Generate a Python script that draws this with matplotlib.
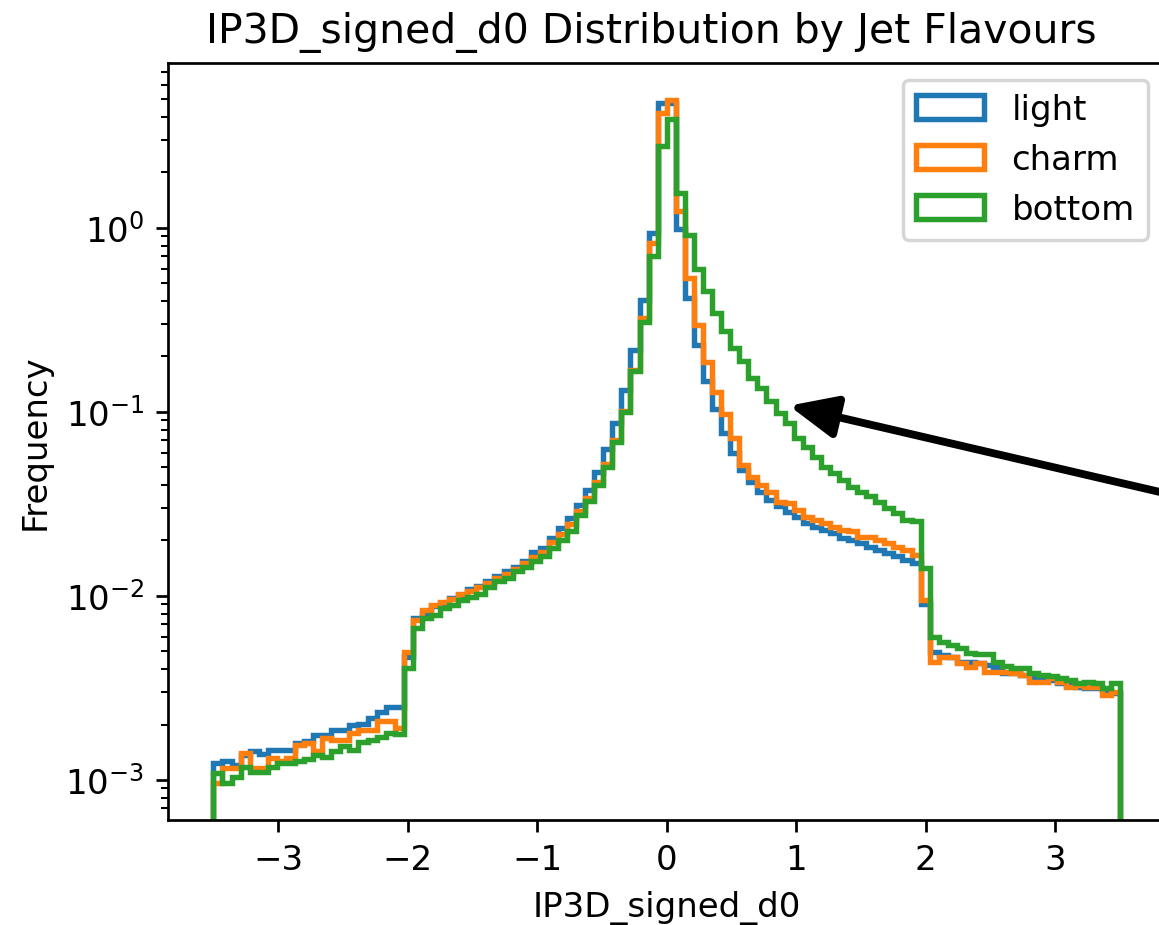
import numpy as np
from matplotlib import pyplot as plt


"""--------------------------------- Data ---------------------------------"""

# 100 bins from -3.5 to 3.5, density values
bin_edges = np.linspace(-3.5, 3.5, 101)
labels = ['light', 'charm', 'bottom']

light = [
    1.23e-3, 1.27e-3, 1.21e-3, 1.37e-3, 1.44e-3, 1.38e-3, 1.46e-3, 1.46e-3,
    1.46e-3, 1.58e-3, 1.62e-3, 1.76e-3, 1.76e-3, 1.87e-3, 1.87e-3, 1.99e-3,
    2.02e-3, 2.18e-3, 2.35e-3, 2.50e-3, 2.50e-3,
    4.68e-3,
    7.56e-3, 8.05e-3, 8.83e-3, 9.20e-3, 9.71e-3, 10.1e-3, 10.9e-3, 11.3e-3,
    12.0e-3, 12.8e-3, 13.6e-3, 14.4e-3, 15.4e-3, 17.4e-3, 18.2e-3, 20.6e-3,
    23.3e-3, 26.4e-3, 31.2e-3, 37.7e-3, 47.4e-3, 62.5e-3,
    0.0868, 0.132, 0.217, 0.406, 0.935, 4.76, 4.75,
    0.99, 0.415, 0.23, 0.147, 0.103, 0.077, 0.060,
    0.0484, 0.0418, 0.0369, 0.0333, 0.0306, 0.0287, 0.027, 0.0248, 0.0238,
    0.0229, 0.0219, 0.0206, 0.0202, 0.0193, 0.0185, 0.0178, 0.0171, 0.0164,
    0.0157, 0.0150,
    9.0e-3,
    4.98e-3, 4.78e-3, 4.68e-3, 4.40e-3, 4.40e-3, 4.31e-3, 4.22e-3, 4.13e-3,
    3.80e-3, 3.80e-3, 3.72e-3, 3.57e-3, 3.57e-3, 3.49e-3, 3.35e-3, 3.28e-3,
    3.21e-3, 3.15e-3, 3.15e-3, 3.08e-3, 2.96e-3,
]

charm = [
    0.96e-3, 1.16e-3, 1.16e-3, 1.40e-3, 1.16e-3, 1.16e-3, 1.31e-3, 1.26e-3,
    1.31e-3, 1.55e-3, 1.58e-3, 1.43e-3, 1.68e-3, 1.65e-3, 1.65e-3, 1.79e-3,
    1.87e-3, 1.87e-3, 2.10e-3, 2.10e-3, 1.91e-3,
    4.98e-3,
    7.4e-3, 8.4e-3, 8.9e-3, 9.3e-3, 9.6e-3, 10.3e-3, 10.6e-3, 11.2e-3,
    11.8e-3, 12.5e-3, 13.2e-3, 14.0e-3, 15.0e-3, 16.3e-3, 17.4e-3, 19.6e-3,
    21.8e-3, 24.6e-3, 29.0e-3, 34.0e-3, 41.5e-3, 52.0e-3,
    0.070, 0.101, 0.168, 0.323, 0.826, 4.20, 4.95,
    1.23, 0.533, 0.295, 0.186, 0.128, 0.097, 0.072,
    0.0515, 0.0445, 0.0401, 0.0369, 0.0325, 0.0319, 0.0293, 0.027, 0.0259,
    0.0248, 0.0238, 0.0229, 0.0224, 0.021, 0.021, 0.0202, 0.0193, 0.0185,
    0.0178, 0.0167,
    9.5e-3,
    4.40e-3, 4.68e-3, 4.68e-3, 4.31e-3, 4.13e-3, 4.31e-3, 3.88e-3, 3.88e-3,
    3.88e-3, 3.80e-3, 3.72e-3, 3.42e-3, 3.42e-3, 3.57e-3, 3.42e-3, 3.21e-3,
    3.28e-3, 3.21e-3, 3.21e-3, 2.90e-3, 3.02e-3,
]

bottom = [
    1.09e-3, 0.96e-3, 1.04e-3, 1.18e-3, 1.11e-3, 1.11e-3, 1.18e-3, 1.23e-3,
    1.23e-3, 1.26e-3, 1.30e-3, 1.37e-3, 1.34e-3, 1.43e-3, 1.52e-3, 1.46e-3,
    1.60e-3, 1.65e-3, 1.72e-3, 1.79e-3, 1.77e-3,
    4.04e-3,
    6.67e-3, 7.56e-3, 7.88e-3, 8.57e-3, 8.93e-3, 9.51e-3, 9.91e-3, 10.3e-3,
    11.2e-3, 12.0e-3, 12.5e-3, 13.6e-3, 14.4e-3, 15.4e-3, 16.4e-3, 18.2e-3,
    20.2e-3, 22.4e-3, 27.5e-3, 32.6e-3, 40.1e-3, 50.4e-3,
    0.069, 0.100, 0.166, 0.309, 0.699, 2.80, 3.90,
    1.54, 0.916, 0.60, 0.451, 0.346, 0.275, 0.223,
    0.188, 0.152, 0.135, 0.114, 0.098, 0.0868, 0.072, 0.0648, 0.0572,
    0.0504, 0.0464, 0.0427, 0.0393, 0.0369, 0.0347, 0.0325, 0.030, 0.0281,
    0.0259, 0.0254,
    0.0142,
    5.96e-3, 5.65e-3, 5.42e-3, 5.20e-3, 4.88e-3, 4.85e-3, 4.85e-3, 4.40e-3,
    4.17e-3, 4.08e-3, 4.08e-3, 3.80e-3, 3.72e-3, 3.65e-3, 3.57e-3, 3.49e-3,
    3.38e-3, 3.42e-3, 3.38e-3, 3.15e-3, 3.36e-3,
]

# where the arrow points (data coords)
arrow_tip = (0.944, 0.108)


"""------------------------------- Plotting -------------------------------"""

dpi = 245
fig = plt.figure(figsize=(1159.4 / dpi, 925.4 / dpi), dpi=dpi)
ax = fig.add_axes([168 / 1159, 105 / 925, 997 / 1159, 757 / 925])

centers = 0.5 * (bin_edges[:-1] + bin_edges[1:])
for values, label in zip([light, charm, bottom], labels):
    ax.hist(centers, bins=bin_edges, weights=values, histtype='step',
            label=label, lw=1.6)

ax.set_yscale('log')
ax.set_xlim(-3.85, 3.85)
ax.set_ylim(6.06e-4, 7.9)
ax.set_title('IP3D_signed_d0 Distribution by Jet Flavours', x=0.485)
ax.set_xlabel('IP3D_signed_d0')
ax.set_ylabel('Frequency')
ax.legend(loc='upper right')

ax.annotate('', xy=arrow_tip, xycoords='data',
            xytext=(1.135, 0.39), textcoords='axes fraction',
            arrowprops=dict(arrowstyle='-|>,head_length=0.45,head_width=0.2',
                            color='black', lw=2.3, mutation_scale=26,
                            shrinkA=0, shrinkB=0),
            annotation_clip=False)

fig.savefig('out.png', dpi=dpi)
